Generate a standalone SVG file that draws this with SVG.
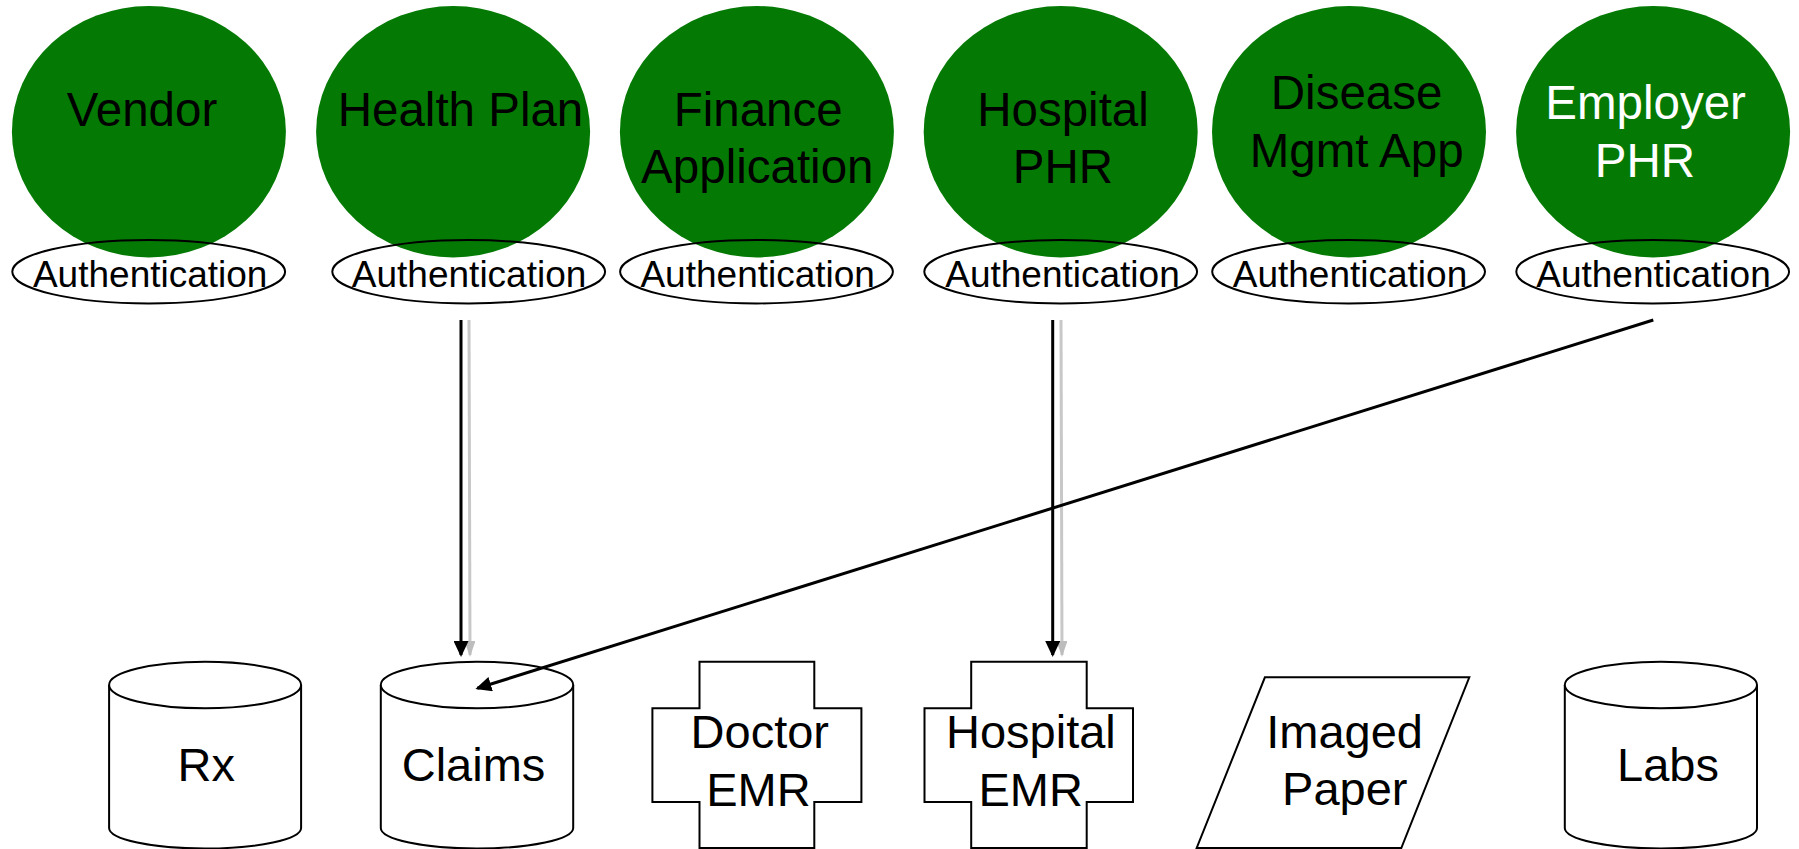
<svg xmlns="http://www.w3.org/2000/svg" width="1799" height="849" viewBox="0 0 1799 849">
<defs>
<style>
.app{fill:#047a04;stroke:none}
.auth{fill:none;stroke:#000;stroke-width:2}
.shape{fill:#fff;stroke:#000;stroke-width:2}
text{font-family:"Liberation Sans",Arial,sans-serif;text-anchor:middle;fill:#000}
.big{font-size:47.5px}
.bot{font-size:47px}
.at{font-size:37px}
.white{fill:#fff}
.con{fill:none;stroke:#000;stroke-width:3}
.gray{fill:none;stroke:#c8c8c8;stroke-width:3}
</style>
<marker id="ab" viewBox="0 0 16 15" refX="14" refY="7.5" markerWidth="16" markerHeight="15" markerUnits="userSpaceOnUse" orient="auto"><path d="M0,0 L16,7.5 L0,15 z" fill="#000"/></marker>
<marker id="ag" viewBox="0 0 16 11" refX="14" refY="5.5" markerWidth="16" markerHeight="11" markerUnits="userSpaceOnUse" orient="auto"><path d="M0,0 L16,5.5 L0,11 z" fill="#bdbdbd"/></marker>
</defs>
<rect width="1799" height="849" fill="#fff"/>

<g id="vendor">
<ellipse class="app" cx="148.9" cy="131.7" rx="137" ry="125.7"/>
<text class="big" x="142" y="126">Vendor</text>
<ellipse class="auth" cx="148.7" cy="271.7" rx="136.4" ry="31.7"/>
<text class="at" x="150.2" y="286.7">Authentication</text>
</g>
<g id="health-plan">
<ellipse class="app" cx="453.1" cy="131.7" rx="137" ry="125.7"/>
<text class="big" x="460.5" y="126">Health Plan</text>
<ellipse class="auth" cx="468.7" cy="271.7" rx="136.4" ry="31.7"/>
<text class="at" x="469.1" y="286.7">Authentication</text>
</g>
<g id="finance-application">
<ellipse class="app" cx="756.9" cy="131.7" rx="137" ry="125.7"/>
<text class="big" x="758.2" y="126">Finance</text>
<text class="big" x="757.3" y="182.7">Application</text>
<ellipse class="auth" cx="756.5" cy="271.7" rx="136.4" ry="31.7"/>
<text class="at" x="757.7" y="286.7">Authentication</text>
</g>
<g id="hospital-phr">
<ellipse class="app" cx="1060.7" cy="131.7" rx="137" ry="125.7"/>
<text class="big" x="1063" y="126">Hospital</text>
<text class="big" x="1063" y="182.7">PHR</text>
<ellipse class="auth" cx="1060.7" cy="271.7" rx="136.4" ry="31.7"/>
<text class="at" x="1062.5" y="286.7">Authentication</text>
</g>
<g id="disease-mgmt-app">
<ellipse class="app" cx="1349" cy="131.7" rx="137" ry="125.7"/>
<text class="big" x="1356.6" y="109.3">Disease</text>
<text class="big" x="1356.7" y="166.7">Mgmt App</text>
<ellipse class="auth" cx="1348.6" cy="271.7" rx="136.4" ry="31.7"/>
<text class="at" x="1350" y="286.7">Authentication</text>
</g>
<g id="employer-phr">
<ellipse class="app" cx="1653.1" cy="131.7" rx="137" ry="125.7"/>
<text class="big white" x="1645.6" y="119.3">Employer</text>
<text class="big white" x="1645" y="177.3">PHR</text>
<ellipse class="auth" cx="1652.7" cy="271.7" rx="136.4" ry="31.7"/>
<text class="at" x="1653.5" y="286.7">Authentication</text>
</g>

<g id="rx">
<path class="shape" d="M109.1,685 L109.1,828 A96,20.5 0 0 0 301.1,828 L301.1,685"/>
<ellipse class="shape" cx="205.1" cy="685" rx="96" ry="23.3"/>
<text class="bot" x="206.3" y="780.7">Rx</text>
</g>
<g id="claims">
<path class="shape" d="M380.8,685 L380.8,828 A96.2,20.5 0 0 0 573.2,828 L573.2,685"/>
<ellipse class="shape" cx="477" cy="685" rx="96.2" ry="23.3"/>
<text class="bot" x="473.5" y="780.7">Claims</text>
</g>
<g id="doctor-emr">
<path class="shape" d="M699.5,661.7 L814.3,661.7 L814.3,708.3 L861.4,708.3 L861.4,802 L814.3,802 L814.3,848 L699.5,848 L699.5,802 L652.4,802 L652.4,708.3 L699.5,708.3 Z"/>
<text class="bot" x="759.8" y="748.3">Doctor</text>
<text class="bot" x="758.4" y="805.7">EMR</text>
</g>
<g id="hospital-emr">
<path class="shape" d="M971.2,661.7 L1086.7,661.7 L1086.7,708.3 L1133,708.3 L1133,802 L1086.7,802 L1086.7,848 L971.2,848 L971.2,802 L924.5,802 L924.5,708.3 L971.2,708.3 Z"/>
<text class="bot" x="1030.9" y="748.3">Hospital</text>
<text class="bot" x="1030.7" y="805.7">EMR</text>
</g>
<g id="imaged-paper">
<path class="shape" d="M1264.9,677.3 L1469.3,677.3 L1401.3,848 L1196.7,848 Z"/>
<text class="bot" x="1344.6" y="748.3">Imaged</text>
<text class="bot" x="1344.8" y="805">Paper</text>
</g>
<g id="labs">
<path class="shape" d="M1564.8,685 L1564.8,828 A96.1,20.5 0 0 0 1757,828 L1757,685"/>
<ellipse class="shape" cx="1660.9" cy="685" rx="96.1" ry="23.3"/>
<text class="bot" x="1668" y="780.7">Labs</text>
</g>

<g id="connectors">
<line class="gray" x1="469" y1="320" x2="470" y2="655" marker-end="url(#ag)"/>
<line class="con" x1="461" y1="320" x2="461" y2="655" marker-end="url(#ab)"/>
<line class="gray" x1="1061" y1="320" x2="1062" y2="655" marker-end="url(#ag)"/>
<line class="con" x1="1052.7" y1="320" x2="1052.7" y2="655" marker-end="url(#ab)"/>
<line class="con" x1="1653.3" y1="320" x2="477.3" y2="688.3" marker-end="url(#ab)"/>
</g>
</svg>
